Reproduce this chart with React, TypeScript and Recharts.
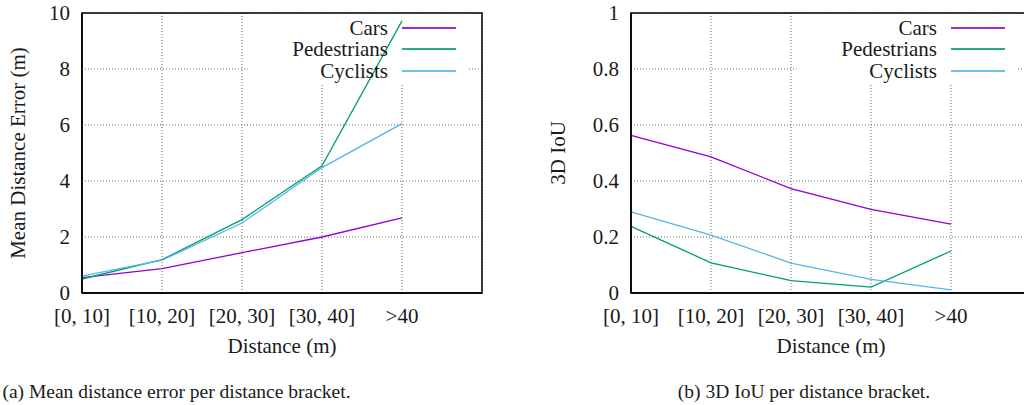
import React from "react";
import { LineChart, Line, XAxis, YAxis, CartesianGrid, Legend, ReferenceArea } from "recharts";

const categories = ["[0, 10]", "[10, 20]", "[20, 30]", "[30, 40]", ">40"];
const seriesNames = ["Cars", "Pedestrians", "Cyclists"];
const seriesColors = ["#9400d3", "#009e73", "#56b4e9"];

const carsError = [0.55, 0.87, 1.44, 2.0, 2.68];
const pedestriansError = [0.5, 1.19, 2.62, 4.54, 9.72];
const cyclistsError = [0.6, 1.17, 2.5, 4.48, 6.05];

const carsIoU = [0.563, 0.486, 0.373, 0.299, 0.246];
const pedestriansIoU = [0.238, 0.108, 0.044, 0.021, 0.15];
const cyclistsIoU = [0.29, 0.207, 0.107, 0.049, 0.011];

const errorTicks = [0, 2, 4, 6, 8, 10];
const iouTicks = [0, 0.2, 0.4, 0.6, 0.8, 1];
const xTicks = [0, 1, 2, 3, 4];

const errorData = categories.map((c, i) => ({
  x: i,
  cat: c,
  Cars: carsError[i],
  Pedestrians: pedestriansError[i],
  Cyclists: cyclistsError[i],
}));
const iouData = categories.map((c, i) => ({
  x: i,
  cat: c,
  Cars: carsIoU[i],
  Pedestrians: pedestriansIoU[i],
  Cyclists: cyclistsIoU[i],
}));

const FONT = "Liberation Serif, Times New Roman, serif";
const FS = 21;
const TXT = "#1a1a1a";

const css = `
.figwrap, .figwrap * { font-family: "Liberation Serif", "Times New Roman", serif !important; }
.figwrap svg text { font-size: ${FS}px !important; fill: ${TXT}; }
.figwrap .leg { font-size: ${FS}px !important; color: ${TXT}; }
.figwrap .cap { font-size: 19.5px !important; color: ${TXT}; }
`;

const LegendContent = () => (
  <div className="leg">
    {seriesNames.map((n, i) => (
      <div key={n} style={{ display: "flex", alignItems: "center", height: 21.5, justifyContent: "flex-end" }}>
        <span style={{ lineHeight: "20px" }}>{n}</span>
        <span style={{ display: "inline-block", width: 54, height: 2, background: seriesColors[i], opacity: 0.85, marginLeft: 14 }} />
      </div>
    ))}
  </div>
);

type PanelProps = {
  data: any[];
  yTicks: number[];
  yMax: number;
  yLabel: string;
  yAxisWidth: number;
  marginRight: number;
  legendRight: number;
};

const Panel = ({ data, yTicks, yMax, yLabel, yAxisWidth, marginRight, legendRight }: PanelProps) => (
  <LineChart
    width={500}
    height={405}
    data={data}
    margin={{ top: 13, right: marginRight, left: 0, bottom: 52 }}
  >
    <CartesianGrid stroke="#666" strokeDasharray="1 2" vertical horizontal />
    <ReferenceArea x1={2.07} x2={4.83} y1={yMax * 0.75} y2={yMax} fill="#fff" fillOpacity={1} stroke="none" />
    <ReferenceArea x1={0} x2={5} y1={0} y2={yMax} fill="none" stroke="#000" strokeWidth={1.5} />
    <XAxis
      dataKey="x"
      type="number"
      domain={[0, 5]}
      ticks={xTicks}
      tickFormatter={(v: number) => categories[v] ?? ""}
      tickLine={false}
      tickSize={0}
      tickMargin={15}
      axisLine={{ stroke: "#000", strokeWidth: 1.5 }}
      height={60}
      tick={{ fill: TXT, fontSize: FS, fontFamily: FONT }}
      interval={0}
      label={{ value: "Distance (m)", position: "insideBottom", offset: 0, fill: TXT, fontSize: FS, fontFamily: FONT }}
    />
    <YAxis
      type="number"
      domain={[0, yMax]}
      ticks={yTicks}
      tickFormatter={(v: number) => String(Math.round(v * 10) / 10)}
      tickLine={false}
      tickSize={0}
      tickMargin={12}
      axisLine={{ stroke: "#000", strokeWidth: 1.5 }}
      width={yAxisWidth}
      tick={{ fill: TXT, fontSize: FS, fontFamily: FONT }}
      interval={0}
      label={{ value: yLabel, angle: -90, position: "center", dx: -(yAxisWidth / 2 - 18), fill: TXT, fontSize: FS, fontFamily: FONT }}
    />
    <Legend
      layout="horizontal"
      verticalAlign="middle"
      align="center"
      content={<LegendContent />}
      wrapperStyle={{ position: "absolute", top: 17, right: legendRight, left: "auto", bottom: "auto", width: 240, height: 66 }}
    />
    {seriesNames.map((n, i) => (
      <Line
        key={n}
        dataKey={n}
        stroke={seriesColors[i]}
        strokeWidth={1.3}
        dot={false}
        isAnimationActive={false}
        type="linear"
      />
    ))}
  </LineChart>
);

export default function App() {
  return (
    <div
      className="figwrap"
      style={{
        position: "absolute",
        left: 0,
        top: 0,
        width: 1024,
        height: 405,
        overflow: "hidden",
        background: "#fff",
      }}
    >
      <style>{css}</style>
      <div style={{ position: "absolute", left: 0, top: 0 }}>
        <Panel data={errorData} yTicks={errorTicks} yMax={10} yLabel="Mean Distance Error (m)" yAxisWidth={82} marginRight={18} legendRight={44} />
      </div>
      <div style={{ position: "absolute", left: 540, top: 0 }}>
        <Panel data={iouData} yTicks={iouTicks} yMax={1} yLabel="3D IoU" yAxisWidth={91} marginRight={9} legendRight={35} />
      </div>
      <div className="cap" style={{ position: "absolute", left: 0, top: 381, width: 353, textAlign: "center", whiteSpace: "nowrap" }}>
        (a) Mean distance error per distance bracket.
      </div>
      <div className="cap" style={{ position: "absolute", left: 604, top: 381, width: 400, textAlign: "center", whiteSpace: "nowrap" }}>
        (b) 3D IoU per distance bracket.
      </div>
    </div>
  );
}
